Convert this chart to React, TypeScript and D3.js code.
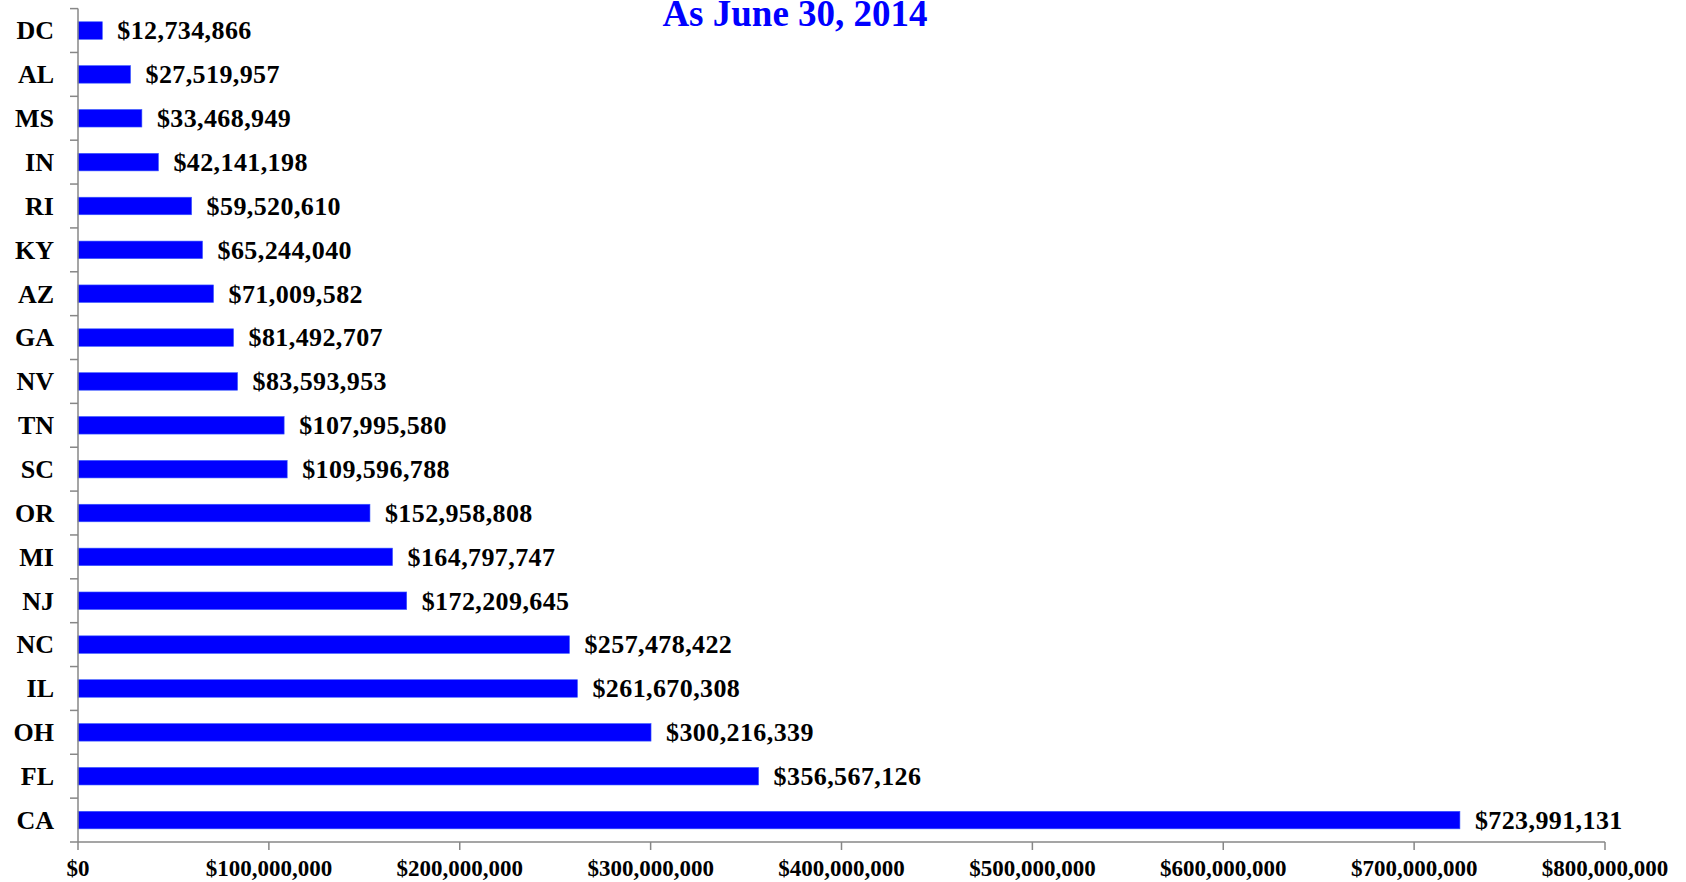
import React from "react";
import * as d3 from "d3";

const states = ["DC","AL","MS","IN","RI","KY","AZ","GA","NV","TN","SC","OR","MI","NJ","NC","IL","OH","FL","CA"];
const amounts = [12734866,27519957,33468949,42141198,59520610,65244040,71009582,81492707,83593953,107995580,109596788,152958808,164797747,172209645,257478422,261670308,300216339,356567126,723991131];
const xTicks = [0,100000000,200000000,300000000,400000000,500000000,600000000,700000000,800000000];
const title = "As June 30, 2014";

const W = 1686, H = 882;
const left = 78, right = 1605, top = 8.6, bottom = 842;
const FONT = "'Liberation Serif', 'Times New Roman', serif";

export default function App() {
  const x = d3.scaleLinear().domain([0, 800000000]).range([left, right]);
  const y = d3.scaleBand<string>().domain(states).range([top, bottom]).paddingInner(0.6).paddingOuter(0.3);
  const band = (bottom - top) / states.length;
  const fmt = (v: number) => "$" + d3.format(",")(v);
  const axisColor = "#878787";

  return (
    <div style={{ position: "fixed", left: 0, top: 0 }}>
      <svg width={W} height={H} style={{ display: "block", background: "#fff" }}>
        <text x={795} y={26} textAnchor="middle" fontFamily={FONT} fontWeight="bold" fontSize={37} fill="#0000ff">{title}</text>
        {states.map((s, i) => (
          <g key={s}>
            <rect x={x(0)} y={y(s)!} width={x(amounts[i]) - x(0)} height={y.bandwidth()} fill="#0000ff" stroke="#3b5bff" strokeWidth={0.6} />
            <text x={x(amounts[i]) + 15} y={y(s)! + y.bandwidth() / 2} dy="0.34em" fontFamily={FONT} fontWeight="bold" fontSize={26} letterSpacing={0.4} fill="#000">{fmt(amounts[i])}</text>
            <text x={54} y={y(s)! + y.bandwidth() / 2} dy="0.34em" textAnchor="end" fontFamily={FONT} fontWeight="bold" fontSize={26} fill="#000">{s}</text>
          </g>
        ))}
        {/* y axis */}
        <line x1={left} x2={left} y1={top} y2={bottom} stroke={axisColor} strokeWidth={1.5} />
        {d3.range(states.length + 1).map((i) => (
          <line key={"yt" + i} x1={left - 8} x2={left} y1={top + i * band} y2={top + i * band} stroke={axisColor} strokeWidth={1.5} />
        ))}
        {/* x axis */}
        <line x1={left} x2={right} y1={bottom} y2={bottom} stroke={axisColor} strokeWidth={1.5} />
        {xTicks.map((t) => (
          <g key={"xt" + t}>
            <line x1={x(t)} x2={x(t)} y1={bottom} y2={bottom + 8} stroke={axisColor} strokeWidth={1.5} />
            <text x={x(t)} y={876} textAnchor="middle" fontFamily={FONT} fontWeight="bold" fontSize={23} fill="#000">{fmt(t)}</text>
          </g>
        ))}
      </svg>
    </div>
  );
}
